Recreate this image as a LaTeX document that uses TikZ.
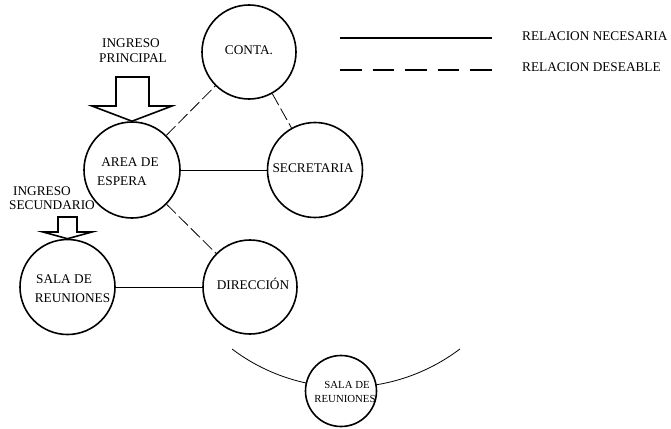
\documentclass[tikz,border=0pt]{standalone}
\usepackage{fontspec}
\setmainfont{Liberation Serif}
\begin{document}
\begin{tikzpicture}[x=1pt,y=-1pt,
  room/.style={circle,draw,line width=1.6pt,inner sep=0pt,fill=white},
  lbl/.style={inner sep=0pt,font=\fontsize{13.3}{15}\selectfont},
  slbl/.style={inner sep=0pt,font=\fontsize{10.8}{12}\selectfont},
  need/.style={line width=0.8pt},
  want/.style={line width=0.8pt,dash pattern=on 13pt off 4pt},
  entry/.style={line width=1.6pt,line join=miter}]
\useasboundingbox (0,0) rectangle (671,428);
% circles
\node[room,minimum size=94pt] (conta) at (249,52) {};
\node[room,minimum size=96pt] (area) at (132,170) {};
\node[room,minimum size=95pt] (secr) at (315,170) {};
\node[room,minimum size=94pt] (dir) at (250,287) {};
\node[room,minimum size=95pt] (sala) at (67.5,287) {};
% arc behind bottom circle
\coordinate (arcL) at (232,349);
\draw[need] (arcL) arc[start angle=127.1,end angle=52.9,radius=188.9];
\node[room,minimum size=71pt] (sala2) at (341,391) {};
% connectors
\draw[want] (area) -- (conta);
\draw[want] (conta) -- (secr);
\draw[need] (area) -- (secr);
\draw[want] (area) -- (dir);
\draw[need] (sala) -- (dir);
% texts
\node[lbl] (tconta) at (249,50) {CONTA.};
\node[lbl] (tarea1) at (130,162) {AREA DE};
\node[lbl] (tarea2) at (122,181) {ESPERA};
\node[lbl] (tsecr) at (313,168) {SECRETARIA};
\node[lbl] (tdir) at (253,284) {DIRECCIÓN};
\node[lbl] (tsala1) at (64,279) {SALA DE};
\node[lbl] (tsala2) at (72.5,298) {REUNIONES};
\node[slbl] (tsb1) at (347,385) {SALA DE};
\node[slbl] (tsb2) at (345,399) {REUNIONES};
\node[lbl] (ting1) at (131,43) {INGRESO};
\node[lbl] (ting2) at (133,58) {PRINCIPAL};
\node[lbl] (tins1) at (42,191) {INGRESO};
\node[lbl] (tins2) at (52,205) {SECUNDARIO};
% entry arrows
\draw[entry] (116,77) -- (149,77) -- (149,106) -- (172,106) -- (area.north) -- (92,106) -- (116,106) -- cycle;
\draw[entry] (58,217) -- (77,217) -- (77,232) -- (92,232) -- (sala.north) -- (43,232) -- (58,232) -- cycle;
% legend
\coordinate (l1a) at (340,38);
\coordinate (l1b) at (492,38);
\coordinate (l2a) at (340,70);
\coordinate (l2b) at (492,70);
\draw[line width=1.1pt] (l1a) -- (l1b);
\draw[line width=1.3pt,dash pattern=on 21.5pt off 11pt] (l2a) -- (l2b);
\node[lbl,anchor=west] (leg1) at (522,36) {RELACION NECESARIA};
\node[lbl,anchor=west] (leg2) at (522,67) {RELACION DESEABLE};
\end{tikzpicture}
\end{document}
